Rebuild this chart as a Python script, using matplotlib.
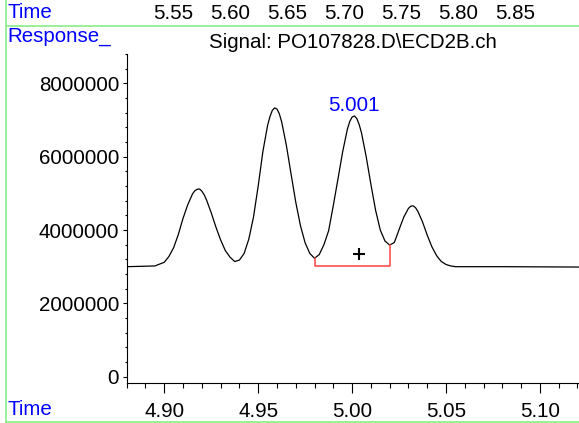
import matplotlib
matplotlib.use("Agg")
import matplotlib.pyplot as plt
from matplotlib.lines import Line2D
from matplotlib.ticker import MultipleLocator

plt.rcParams['font.family'] = ['Liberation Sans', 'DejaVu Sans']

# chromatogram (time in min, response in millions)
times = [4.880, 4.895, 4.900, 4.9025, 4.905, 4.9075, 4.910, 4.9125, 4.915, 4.91625,
         4.9175, 4.91875, 4.920, 4.92125, 4.9225, 4.925, 4.9275, 4.930, 4.9325, 4.935,
         4.9375, 4.940, 4.9425, 4.945, 4.9475, 4.950, 4.9525, 4.955, 4.95625, 4.9575,
         4.95875, 4.960, 4.96125, 4.9625, 4.965, 4.9675, 4.970, 4.9725, 4.975, 4.9775,
         4.980, 4.9825, 4.985, 4.9875, 4.990, 4.9925, 4.995, 4.9975, 4.99875, 5.000,
         5.00125, 5.0025, 5.00375, 5.005, 5.0075, 5.010, 5.0125, 5.015, 5.0175, 5.020,
         5.0225, 5.025, 5.0275, 5.030, 5.03125, 5.0325, 5.03375, 5.035, 5.0375, 5.040,
         5.0425, 5.045, 5.0475, 5.050, 5.0525, 5.055, 5.080, 5.121]
response = [3.00, 3.02, 3.12, 3.28, 3.52, 3.88, 4.32, 4.69, 4.98, 5.07,
            5.11, 5.12, 5.06, 4.96, 4.82, 4.47, 4.08, 3.73, 3.44, 3.26,
            3.14, 3.18, 3.36, 3.75, 4.35, 5.20, 6.14, 6.85, 7.09, 7.26,
            7.33, 7.30, 7.17, 6.95, 6.31, 5.53, 4.76, 4.12, 3.65, 3.36,
            3.23, 3.33, 3.60, 3.98, 4.67, 5.40, 6.14, 6.75, 6.96, 7.08,
            7.11, 7.04, 6.88, 6.65, 6.00, 5.25, 4.54, 4.00, 3.70, 3.59,
            3.66, 4.01, 4.35, 4.59, 4.65, 4.66, 4.61, 4.51, 4.22, 3.86,
            3.54, 3.30, 3.14, 3.06, 3.02, 3.00, 3.00, 2.99]

# integration baseline of the labelled peak
base_t = [4.980, 4.980, 5.020, 5.020]
base_r = [3.23, 3.03, 3.03, 3.59]
peak_t = 5.001
peak_r = 7.11
peak_label = "5.001"
mark_t, mark_r = 5.0035, 3.35

bottom_ticks = [4.90, 4.95, 5.00, 5.05, 5.10]
top_ticks = [5.55, 5.60, 5.65, 5.70, 5.75, 5.80, 5.85]
y_ticks = [0, 2000000, 4000000, 6000000, 8000000]

fs = 14.8
blue = '#0000ff'

fig = plt.figure(figsize=(5.79, 4.23), dpi=100)
ax = fig.add_axes([126.7 / 579, 40 / 423, 1 - 126.7 / 579, 329 / 423])

ax.plot(times, [r * 1e6 for r in response], color='black', lw=0.9)
ax.plot(base_t, [r * 1e6 for r in base_r], color='#ff4040', lw=1.1)
ax.plot([mark_t], [mark_r * 1e6], marker='+', color='black', ms=8, mew=1.5)
ax.annotate(peak_label, (peak_t, peak_r * 1e6), xytext=(0, 1), textcoords='offset points',
            ha='center', va='bottom', color=blue, fontsize=fs)

ax.set_xlim(4.880, 5.1208)
ax.set_ylim(-172000, 8800000)
ax.set_xticks(bottom_ticks)
ax.set_xticklabels(['%.2f' % t for t in bottom_ticks])
ax.set_yticks(y_ticks)
ax.set_yticklabels([str(v) for v in y_ticks])
ax.xaxis.set_minor_locator(MultipleLocator(0.01))
ax.yaxis.set_minor_locator(MultipleLocator(400000))
ax.tick_params(axis='x', which='major', length=7.2, width=0.8, pad=6.3, labelsize=fs)
ax.tick_params(axis='x', which='minor', length=3.6, width=0.8)
ax.tick_params(axis='y', which='major', length=3, width=0.8, pad=2.5, labelsize=fs)
ax.tick_params(axis='y', which='minor', length=1.5, width=0.8)
for s in ['top', 'right']:
    ax.spines[s].set_visible(False)
for s in ['left', 'bottom']:
    ax.spines[s].set_linewidth(0.8)
ax.set_title("Signal: PO107828.D\\ECD2B.ch", fontsize=fs, y=1.0, pad=4.5)

# second time scale shown across the top
ax2 = ax.twiny()
ax2.set_xlim(5.5094, 5.9061)
ax2.set_xticks(top_ticks)
ax2.set_xticklabels(['%.2f' % t for t in top_ticks])
ax2.tick_params(axis='x', length=0, pad=22.5, labelsize=fs)
for s in ax2.spines.values():
    s.set_visible(False)

fig.text(7 / 579, 1 - 18 / 423, "Time", color=blue, fontsize=fs, va='baseline')
fig.text(7 / 579, 1 - 42 / 423, "Response_", color=blue, fontsize=fs, va='baseline')
fig.text(7 / 579, 1 - 415 / 423, "Time", color=blue, fontsize=fs, va='baseline')

green = '#88ee88'
fig.add_artist(Line2D([5.7 / 579, 1], [1 - 25.7 / 423] * 2, color=green, lw=1.2))
fig.add_artist(Line2D([5.7 / 579, 1], [1.2 / 423] * 2, color=green, lw=1.2))
fig.add_artist(Line2D([5.7 / 579] * 2, [1.2 / 423, 1], color=green, lw=1.2))

fig.savefig("out.png", dpi=100)
